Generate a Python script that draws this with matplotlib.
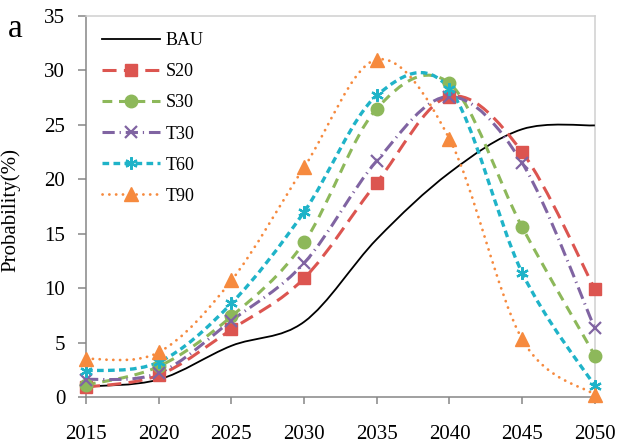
import numpy as np
import matplotlib.pyplot as plt
from matplotlib.path import Path
from matplotlib.patches import PathPatch
from matplotlib.lines import Line2D

plt.rcParams['font.family'] = ['Liberation Serif', 'DejaVu Serif']

years = [2015, 2020, 2025, 2030, 2035, 2040, 2045, 2050]

bau = [0.95, 1.6, 4.7, 6.9, 14.5, 20.6, 24.6, 24.95]
s20 = [0.9, 2.0, 6.2, 10.9, 19.7, 27.6, 22.5, 9.9]
s30 = [1.1, 2.8, 7.4, 14.2, 26.5, 28.8, 15.6, 3.8]
t30 = [1.6, 2.2, 7.0, 12.3, 21.7, 27.6, 21.5, 6.3]
t60 = [2.4, 3.2, 8.6, 17.0, 27.7, 28.3, 11.4, 1.0]
t90 = [3.5, 4.1, 10.7, 21.1, 31.0, 23.7, 5.3, 0.2]

names = ['BAU', 'S20', 'S30', 'T30', 'T60', 'T90']
values = [bau, s20, s30, t30, t60, t90]

colors = ['black', '#DC5550', '#8DB85A', '#8064A2', '#1FB3C8', '#F68A3E']
widths = [1.3, 2.2, 2.2, 2.2, 2.4, 2.0]
dashes = [None, (4.6, 2.4), (3.2, 2.2), (4.0, 1.6, 0.4, 1.6), (2.0, 1.3), (0.05, 2.4)]
caps = ['butt', 'butt', 'butt', 'butt', 'butt', 'round']
markers = [None, 's', 'o', 'x', (6, 2, 0), '^']
msizes = [0, 9, 9, 9, 9, 10]


def smooth_path(x, y):
    # cubic bezier through the points, like a spreadsheet "smoothed line"
    pts = np.column_stack([x, y]).astype(float)
    n = len(pts)
    verts = [pts[0]]
    codes = [Path.MOVETO]
    for i in range(n - 1):
        p0 = pts[max(i - 1, 0)]
        p1 = pts[i]
        p2 = pts[i + 1]
        p3 = pts[min(i + 2, n - 1)]
        verts += [p1 + (p2 - p0) / 6, p2 - (p3 - p1) / 6, p2]
        codes += [Path.CURVE4] * 3
    return Path(verts, codes)


fig = plt.figure(figsize=(6.19, 4.45), dpi=100)
ax = fig.add_axes([0.139, 0.108, 0.822, 0.856])

handles = []
for name, vals, c, lw, d, cap, m, ms in zip(names, values, colors, widths, dashes, caps, markers, msizes):
    ls = '-' if d is None else (0, d)
    patch = PathPatch(smooth_path(years, vals), fill=False, edgecolor=c, linewidth=lw,
                      linestyle=ls, capstyle=cap, zorder=3)
    ax.add_patch(patch)
    mew = 1.6 if m == 'x' or isinstance(m, tuple) else 1.0
    if m is not None:
        ax.plot(years, vals, linestyle='none', marker=m, markersize=ms, color=c,
                markeredgecolor=c, markeredgewidth=mew, clip_on=False, zorder=4)
    h = Line2D([], [], color=c, linewidth=lw, linestyle=ls, dash_capstyle=cap,
               marker=m, markersize=ms, markeredgecolor=c, markeredgewidth=mew)
    handles.append(h)

ax.set_xlim(2015, 2050)
ax.set_ylim(0, 35)
ax.set_xticks(years)
ax.set_yticks(range(0, 36, 5))
ax.tick_params(axis='x', direction='out', length=5, width=1.1, colors='#868686',
               labelcolor='black', labelsize=15, pad=15)
ax.tick_params(axis='y', direction='out', length=6, width=1.1, colors='#868686',
               labelcolor='black', labelsize=15, pad=9)

for side in ['left', 'bottom']:
    ax.spines[side].set_color('#868686')
    ax.spines[side].set_linewidth(1.1)
for side in ['top', 'right']:
    ax.spines[side].set_color('#D0D0D0')
    ax.spines[side].set_linewidth(1.1)

ax.set_ylabel('Probability(%)', fontsize=15)
ax.yaxis.set_label_coords(-0.13, 0.49)

leg = ax.legend(handles, names, loc='upper left', bbox_to_anchor=(0.0, 1.0),
                frameon=False, fontsize=13, handlelength=3.2, labelspacing=0.78,
                handletextpad=0.3)

fig.text(0.013, 0.935, 'a', fontsize=24, va='center', ha='left')

fig.savefig('out.png', dpi=100)
